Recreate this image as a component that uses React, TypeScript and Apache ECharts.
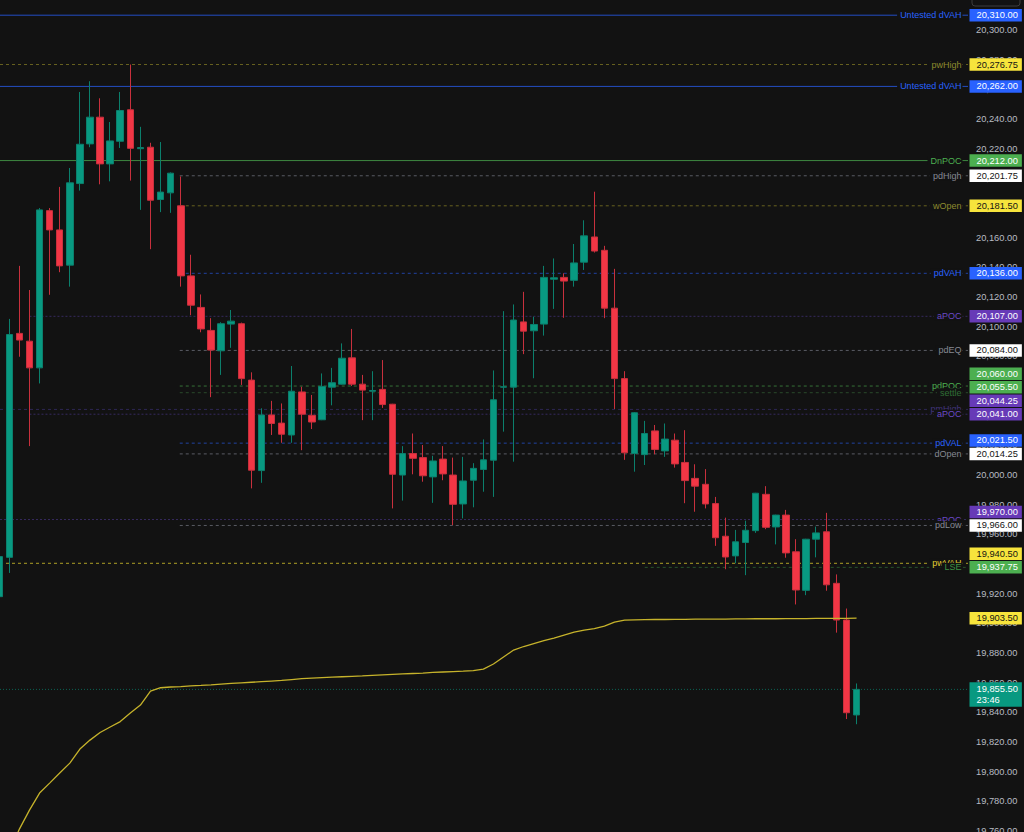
import React, { useEffect, useRef } from "react";
import * as echarts from "echarts";

// ---------- data ----------
const FIRST_INDEX = -1; // index of the first (partly hidden) candle
const opens = [
  19918, 19944.5, 20095.5, 20090.25, 20072.25, 20178.25, 20165.25, 20141.5, 20196.5, 20223.25,
  20241.25, 20209.75, 20225, 20246.25, 20220, 20221, 20185.75, 20190.25, 20181.5, 20134.25,
  20113, 20097.5, 20083.75, 20101.75, 20102, 20064, 20003, 20040.5, 20035, 20027,
  20056, 20040.25, 20037.25, 20059.25, 20061.25, 20079, 20061.25, 20056.5, 20057.75, 20047.75,
  20000, 20014.5, 20011.75, 19998.75, 20010.75, 20000, 19980.5, 19996.5, 20003.75, 20010,
  20059.25, 20059.25, 20103.25, 20097.25, 20101.75, 20132, 20133.25, 20131.25, 20143.5, 20160.5,
  20151.5, 20112.5, 20065, 20014.5, 20013.75, 20029.75, 20016.25, 20023.5, 20008.5, 19997.75,
  19993.75, 19980.75, 19958.75, 19945.5, 19954.5, 19962.5, 19987, 19965, 19973, 19948.25,
  19922.25, 19956.75, 19961.75, 19927, 19902.25, 19838.25,
];
const highs = [
  19946, 20105.25, 20141, 20124.75, 20180, 20180, 20194.25, 20207, 20258.25, 20265.5,
  20254, 20238, 20258.25, 20276.75, 20234.75, 20224, 20224.5, 20204, 20201.25, 20148.5,
  20121.75, 20105.75, 20103, 20111.25, 20102.75, 20069.25, 20045, 20050, 20048.25, 20073.5,
  20059.5, 20054, 20068.5, 20072.25, 20088.75, 20098.5, 20067.5, 20070, 20077.5, 20048,
  20019.5, 20028, 20020.25, 20013, 20019.5, 20011.75, 20012.25, 20008, 20024, 20070.5,
  20110.5, 20115, 20123.5, 20106.75, 20141, 20146, 20136, 20155.75, 20171.75, 20191,
  20154.5, 20139, 20070, 20042.5, 20036.5, 20033.75, 20034.75, 20028, 20030.25, 20007.25,
  20004, 19985.25, 19971.25, 19963, 19969.25, 19988, 19992.5, 19973.25, 19976.5, 19956.75,
  19957, 19965.25, 19974.5, 19933, 19910, 19859.5,
];
const lows = [
  19915, 19934, 20079.75, 20019.5, 20061.75, 20121.5, 20136.75, 20127, 20191.75, 20221,
  20196, 20198, 20220.5, 20198.5, 20178.75, 20152.25, 20177.25, 20176.75, 20127, 20107.75,
  20096.25, 20052.5, 20067.5, 20085.75, 20060.75, 19991, 19994.75, 20027, 20021.75, 20021.75,
  20016.75, 20031, 20037, 20047, 20061, 20060, 20037, 20037, 20045.25, 19977.5,
  19982.75, 20000.5, 19995.5, 19981.25, 19996.5, 19966.25, 19970.75, 19978.25, 19988.75, 19985.25,
  20029.25, 20009, 20081.5, 20065.25, 20094, 20112, 20106, 20127, 20138.25, 20150,
  20105.75, 20044.5, 20010.25, 20002.25, 20006.75, 20014, 20012.25, 20005, 19981, 19975.25,
  19977.5, 19952.25, 19936.5, 19940.5, 19932.5, 19961, 19963.5, 19953.25, 19944.25, 19912.75,
  19919, 19944.5, 19922, 19893.75, 19835.5, 19832,
];
const closes = [
  19945, 20094.75, 20091, 20072.25, 20178.75, 20165.25, 20141, 20197, 20223, 20241.25,
  20209.75, 20225.25, 20245.75, 20220.25, 20220.75, 20185.25, 20190.75, 20203.5, 20134.25, 20114.5,
  20098.5, 20084.25, 20102, 20103.75, 20065, 20003.25, 20040.5, 20034.75, 20027.5, 20056.5,
  20041, 20035.75, 20059.75, 20062.25, 20078.75, 20061.25, 20057.25, 20057, 20047.5, 20000.5,
  20014.5, 20011.25, 19999.5, 20009.5, 20000.75, 19980.25, 19996, 20004.5, 20010.25, 20050.75,
  20059.5, 20104.5, 20097, 20101.5, 20133.25, 20133, 20130.75, 20143, 20161.25, 20151,
  20112.5, 20065, 20015, 20042, 20028, 20017.25, 20024.25, 20007.5, 19996.25, 19992.5,
  19980.5, 19957.75, 19944.75, 19955, 19962.75, 19987.75, 19964.75, 19973, 19947.5, 19922.5,
  19956.75, 19961, 19926, 19902.25, 19839.75, 19855.5,
];

const VWAP_START = 0; // candle index of the first VWAP value
const vwap = [
  19745.8, 19761.3, 19774.1, 19785.6, 19792.3, 19799.1, 19805.8, 19815.3, 19821.3, 19826.4,
  19830.1, 19833.8, 19839.5, 19844.9, 19854.4, 19856.6, 19857.1, 19857.4, 19857.9, 19858.2,
  19858.6, 19859.1, 19859.5, 19859.9, 19860.3, 19860.7, 19861.1, 19861.5, 19862.1, 19862.7,
  19863.1, 19863.4, 19863.7, 19864.0, 19864.3, 19864.6, 19865.0, 19865.3, 19865.6, 19865.9,
  19866.2, 19866.5, 19866.9, 19867.2, 19867.5, 19867.8, 19868.2, 19869.2, 19872.6, 19877.3,
  19882.0, 19884.4, 19886.4, 19888.4, 19890.1, 19892.1, 19894.1, 19895.5, 19896.4, 19898.2,
  19900.9, 19902.2, 19902.4, 19902.5, 19902.6, 19902.6, 19902.7, 19902.7, 19902.8, 19902.8,
  19902.9, 19902.9, 19903.0, 19903.0, 19903.1, 19903.1, 19903.1, 19903.2, 19903.2, 19903.2,
  19903.3, 19903.3, 19903.4, 19903.4, 19903.5,
];
const VWAP_LAST = 19903.5;
const LAST_PRICE = 19855.5;
const LAST_TIMER = "23:46";

const levelNames = [
  "Untested dVAH", "pwHigh", "Untested dVAH", "DnPOC", "pdHigh", "wOpen", "pdVAH", "aPOC",
  "pdEQ", "pdPOC", "settle", "pmHigh", "aPOC", "pdVAL", "dOpen", "aPOC", "pdLow", "pwVAH", "LSE",
];
const levelPrices = [
  20310, 20276.75, 20262, 20212, 20201.75, 20181.5, 20136, 20107,
  20084, 20060, 20055.5, 20044.25, 20041, 20021.5, 20014.25, 19970, 19966, 19940.5, 19937.75,
];
// candle index where each level line begins (null = from the left edge)
const levelStarts: (number | null)[] = [
  null, null, null, null, 16.9, 16.9, 16.9, 2,
  16.9, 16.9, 16.9, null, 2, 16.9, 16.9, null, 16.9, null, 63,
];
const levelKinds = [
  "dvah", "pw", "dvah", "npoc", "prior", "pw", "vah", "apoc",
  "prior", "poc", "settle", "pm", "apoc", "vah", "prior", "apoc", "prior", "pwvah", "lse",
];

// axis ranges
const Y_MIN = 19740;
const Y_MAX = 20340;
const Y_STEP = 20;
const X_MIN = -0.922;
const X_MAX = 95.05;

// ---------- styles ----------
const BG = "#121212";
const FONT = '"Liberation Sans", Arial, sans-serif';
const UP = "#089981";
const DOWN = "#f23645";
const GRID_TOP = -29.3;
const GRID_H = 890;
const BOX_H = 13.5;

type Sty = { line: string; type: any; text: string; box: string; boxText: string };
const STYLES: Record<string, Sty> = {
  dvah: { line: "rgba(41,98,255,0.75)", type: "solid", text: "#2962ff", box: "#2962ff", boxText: "#ffffff" },
  pw: { line: "rgba(150,142,40,0.65)", type: [3, 3], text: "#8e8a2e", box: "#f7e43c", boxText: "#131313" },
  pwvah: { line: "rgba(214,196,44,0.8)", type: [3, 3], text: "#e2cf33", box: "#f7e43c", boxText: "#131313" },
  npoc: { line: "rgba(76,175,80,0.75)", type: "solid", text: "#4caf50", box: "#4caf50", boxText: "#ffffff" },
  prior: { line: "rgba(120,123,134,0.7)", type: [3, 3], text: "#868993", box: "#ffffff", boxText: "#131313" },
  vah: { line: "rgba(41,98,255,0.6)", type: [3, 3], text: "#2962ff", box: "#2962ff", boxText: "#ffffff" },
  apoc: { line: "rgba(90,66,170,0.5)", type: [2, 2], text: "#6a49c4", box: "#673ab7", boxText: "#ffffff" },
  pm: { line: "rgba(70,56,140,0.55)", type: [3, 3], text: "#42347e", box: "#673ab7", boxText: "#ffffff" },
  poc: { line: "rgba(76,175,80,0.6)", type: [3, 3], text: "#4caf50", box: "#4caf50", boxText: "#ffffff" },
  settle: { line: "rgba(56,110,60,0.6)", type: [3, 3], text: "#2f6e35", box: "#4caf50", boxText: "#ffffff" },
  lse: { line: "rgba(60,140,64,0.55)", type: [3, 3], text: "#3e9142", box: "#4caf50", boxText: "#ffffff" },
};

const fmt = (v: number) =>
  v.toLocaleString("en-US", { minimumFractionDigits: 2, maximumFractionDigits: 2 });

function buildOption() {
  const candleData = opens.map((o, k) => [FIRST_INDEX + k, o, closes[k], lows[k], highs[k]]);
  const vwapData = vwap.map((v, k) => [VWAP_START + k, v]);

  // one line series per level
  const levelSeries: any[] = levelNames.map((_, i) => {
    const s = STYLES[levelKinds[i]];
    const x0 = levelStarts[i] == null ? X_MIN : (levelStarts[i] as number);
    return {
      type: "line",
      data: [
        [x0, levelPrices[i]],
        [X_MAX, levelPrices[i]],
      ],
      symbol: "none",
      showSymbol: false,
      silent: true,
      z: 2,
      lineStyle: { color: s.line, type: s.type, width: 1 },
    };
  });
  levelSeries.push({
    type: "line",
    data: [
      [X_MIN, LAST_PRICE],
      [X_MAX, LAST_PRICE],
    ],
    symbol: "none",
    showSymbol: false,
    silent: true,
    z: 2,
    lineStyle: { color: "rgba(8,153,129,0.6)", type: [1, 2], width: 1 },
  });

  // price boxes on the axis, stacked upward where they would overlap
  const pxPerPoint = GRID_H / (Y_MAX - Y_MIN);
  const boxes = levelNames.map((_, i) => ({
    price: levelPrices[i],
    bg: STYLES[levelKinds[i]].box,
    fg: STYLES[levelKinds[i]].boxText,
  }));
  boxes.push({ price: VWAP_LAST, bg: "#f7e43c", fg: "#131313" });
  const order = boxes.map((_, i) => i).sort((a, b) => boxes[a].price - boxes[b].price);
  const shown: number[] = new Array(boxes.length);
  let prev = -Infinity;
  order.forEach((i) => {
    const p = Math.max(boxes[i].price, prev + BOX_H / pxPerPoint);
    shown[i] = p;
    prev = p;
  });
  const boxData: any[] = boxes.map((b, i) => ({
    value: [X_MAX, shown[i]],
    label: { backgroundColor: b.bg, color: b.fg, formatter: fmt(b.price) },
  }));
  boxData.push({
    value: [X_MAX, LAST_PRICE],
    label: {
      backgroundColor: UP,
      color: "#ffffff",
      formatter: fmt(LAST_PRICE) + "\n" + LAST_TIMER,
      lineHeight: 10.5,
      padding: [2, 4, 1.5, 7],
      offset: [0, 5],
    },
  });

  const textData = levelNames.map((n, i) => ({
    value: [X_MAX, levelPrices[i]],
    label: { color: STYLES[levelKinds[i]].text, formatter: n },
  }));

  return {
    animation: false,
    backgroundColor: BG,
    grid: {
      left: 0,
      right: 56,
      top: GRID_TOP,
      height: GRID_H,
      containLabel: false,
      outerBoundsMode: "none",
    },
    xAxis: { type: "value", min: X_MIN, max: X_MAX, show: false },
    yAxis: {
      type: "value",
      position: "right",
      min: Y_MIN,
      max: Y_MAX,
      interval: Y_STEP,
      splitLine: { show: false },
      axisLine: { show: false },
      axisTick: { show: false },
      axisLabel: {
        color: "#b8bbc2",
        fontSize: 9.3,
        fontFamily: FONT,
        margin: 8,
        formatter: (v: number) => fmt(v),
      },
    },
    series: [
      ...levelSeries,
      {
        type: "candlestick",
        data: candleData,
        barWidth: 7,
        silent: true,
        z: 3,
        itemStyle: {
          color: UP,
          color0: DOWN,
          borderColor: "#0b7f6c",
          borderColor0: "#c8303d",
          borderWidth: 1,
        },
      },
      {
        type: "line",
        data: vwapData,
        symbol: "none",
        showSymbol: false,
        silent: true,
        z: 4,
        lineStyle: { color: "#c6b32b", width: 1.3 },
      },
      {
        type: "scatter",
        data: textData,
        symbolSize: 1,
        clip: false,
        silent: true,
        z: 6,
        itemStyle: { color: "rgba(0,0,0,0)", opacity: 1 },
        label: {
          show: true,
          opacity: 1,
          position: "left",
          distance: 5,
          fontSize: 9,
          fontFamily: FONT,
          backgroundColor: BG,
          padding: [0, 1, 0, 3],
        },
      },
      {
        type: "scatter",
        data: boxData,
        symbolSize: 1,
        clip: false,
        silent: true,
        z: 7,
        itemStyle: { color: "rgba(0,0,0,0)", opacity: 1 },
        label: {
          show: true,
          opacity: 1,
          position: "right",
          distance: 1,
          fontSize: 9.3,
          fontFamily: FONT,
          lineHeight: 10,
          padding: [1.5, 4, 1, 7],
        },
      },
    ],
    graphic: [
      {
        type: "rect",
        z: 100,
        shape: { x: 972, y: -8, width: 48, height: 14, r: 3 },
        style: { fill: BG, stroke: "#3c3c3c", lineWidth: 1 },
      },
    ],
  };
}

export default function App() {
  const ref = useRef<HTMLDivElement>(null);
  useEffect(() => {
    document.body.style.margin = "0";
    document.body.style.background = BG;
    if (!ref.current) return;
    const chart = echarts.init(ref.current, null, { renderer: "svg" });
    chart.setOption(buildOption() as any);
    return () => chart.dispose();
  }, []);
  return <div ref={ref} style={{ width: 1024, height: 832, background: BG }} />;
}
